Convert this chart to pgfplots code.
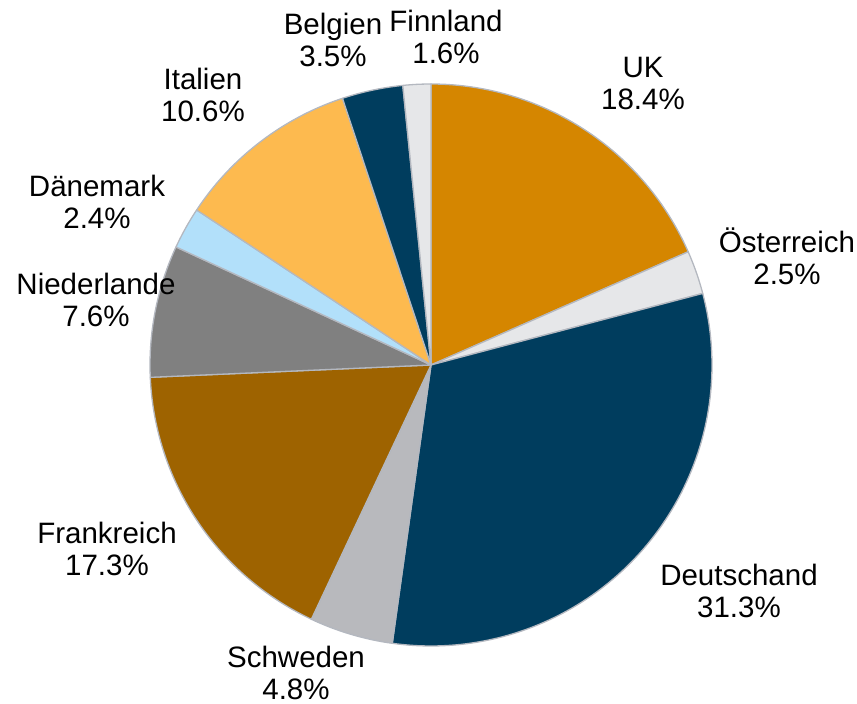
\documentclass[border=0pt]{standalone}
\usepackage{pgfplots}
\pgfplotsset{compat=1.18}
\usepackage{fontspec}
\setmainfont{Liberation Sans}
\definecolor{cUK}{HTML}{D58600}
\definecolor{cAT}{HTML}{E6E7E9}
\definecolor{cDE}{HTML}{003D5E}
\definecolor{cSE}{HTML}{B8B9BD}
\definecolor{cFR}{HTML}{9E6300}
\definecolor{cNL}{HTML}{808080}
\definecolor{cDK}{HTML}{B2E0FA}
\definecolor{cIT}{HTML}{FDBA4F}
\definecolor{cBE}{HTML}{003D5E}
\definecolor{cFI}{HTML}{E6E7E9}
\definecolor{edgecol}{HTML}{B4B8C0}
% #1 colour, #2 cumulative share before slice, #3 share (percent)
\newcommand{\slice}[3]{%
  \addplot[fill=#1, draw=edgecol, line width=1.3bp, line join=round,
    domain={90-3.6*(#2+#3)}:{90-3.6*(#2)}, samples=90]
    ({431+281*cos(x)},{339+281*sin(x)}) -- (axis cs:431,339) -- cycle;}
\begin{document}
\begin{tikzpicture}
\path[use as bounding box] (0,0) rectangle (857bp,704bp);
\begin{axis}[at={(0,0)}, anchor=south west, scale only axis,
  width=857bp, height=704bp, xmin=0, xmax=857, ymin=0, ymax=704,
  hide axis, clip=false]
\slice{cUK}{0}{18.4}
\slice{cAT}{18.4}{2.5}
\slice{cDE}{20.9}{31.3}
\slice{cSE}{52.2}{4.8}
\slice{cFR}{57.0}{17.3}
\slice{cNL}{74.3}{7.6}
\slice{cDK}{81.9}{2.4}
\slice{cIT}{84.3}{10.6}
\slice{cBE}{94.9}{3.5}
\slice{cFI}{98.4}{1.6}
\tikzset{lbl/.style={align=center, inner sep=0pt, font=\fontsize{29.5bp}{32bp}\selectfont}}
\node[lbl] at (axis cs:643,620) {UK\\18.4\%};
\node[lbl] at (axis cs:787,448) {Österreich\\2.5\%};
\node[lbl] at (axis cs:739,113) {Deutschand\\31.3\%};
\node[lbl] at (axis cs:296,31) {Schweden\\4.8\%};
\node[lbl] at (axis cs:107,155) {Frankreich\\17.3\%};
\node[lbl] at (axis cs:96,404) {Niederlande\\7.6\%};
\node[lbl] at (axis cs:97,502) {Dänemark\\2.4\%};
\node[lbl] at (axis cs:203,609) {Italien\\10.6\%};
\node[lbl] at (axis cs:333,664) {Belgien\\3.5\%};
\node[lbl] at (axis cs:446,667) {Finnland\\1.6\%};
\end{axis}
\end{tikzpicture}
\end{document}
